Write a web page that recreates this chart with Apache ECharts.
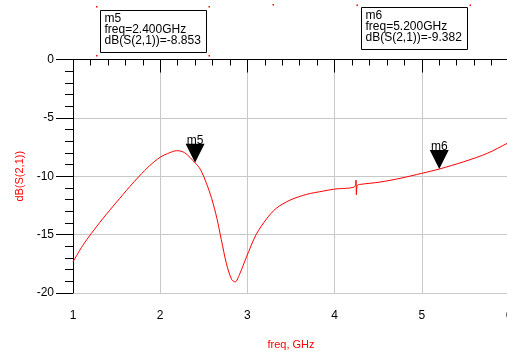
<!DOCTYPE html>
<html>
<head>
<meta charset="utf-8">
<script src="https://cdn.jsdelivr.net/npm/echarts@6/dist/echarts.min.js"></script>
<style>
  html, body { margin: 0; padding: 0; background: #fff; overflow: hidden; }
  #chart { width: 507px; height: 354px; }
</style>
</head>
<body>
<div id="chart"></div>
<script>
// S21 sweep
const freqGHz = [
  1.0, 1.11, 1.21, 1.34, 1.5, 1.65, 1.76, 1.88, 2.0, 2.11, 2.19, 2.28, 2.4,
  2.46, 2.53, 2.59, 2.65, 2.7, 2.76, 2.82, 2.86, 2.91, 2.99, 3.1, 3.22, 3.33,
  3.49, 3.68, 3.87, 4.0, 4.23, 4.245, 4.25, 4.26, 4.29, 4.52, 4.75, 5.0, 5.2,
  5.48, 5.75, 5.98, 6.0,
];
const dbS21 = [
  -17.33, -15.95, -14.9, -13.65, -12.21, -10.9, -9.99, -9.09, -8.37, -7.98,
  -7.81, -7.98, -8.853, -9.4, -10.6, -11.9, -13.6, -15.4, -17.5, -18.85,
  -19.05, -18.4, -16.9, -15.0, -13.65, -12.75, -12.04, -11.55, -11.27, -11.1,
  -10.9, -10.33, -11.6, -10.78, -10.7, -10.5, -10.18, -9.75, -9.382, -8.76,
  -8.04, -7.18, -7.1,
];

const markerNames = ["m5", "m6"];
const markerFreq = [2.4, 5.2];
const markerValue = [-8.853, -9.382];

const xTicks = [1, 2, 3, 4, 5, 6];
const yTicks = [0, -5, -10, -15, -20];

const FONT = "Liberation Sans, Arial, sans-serif";

const initChart = (target) => {
  const myChart = echarts.init(target, null, { renderer: "canvas" });

  const lineData = freqGHz.map((f, i) => [f, dbS21[i]]);
  const markData = markerNames.map((n, i) => ({
    name: n,
    coord: [markerFreq[i], markerValue[i]],
  }));

  const boxAt = (i, left, top) => ({
    type: "group",
    left: left,
    top: top,
    children: [
      {
        type: "rect",
        shape: { x: 0, y: 0, width: 106, height: 42 },
        style: { fill: "#fff", stroke: "#000", lineWidth: 1 },
      },
      {
        type: "text",
        x: 4,
        y: 3,
        style: {
          text:
            markerNames[i] +
            "\nfreq=" + markerFreq[i].toFixed(3) + "GHz" +
            "\ndB(S(2,1))=" + markerValue[i].toFixed(3),
          font: "12px " + FONT,
          lineHeight: 11,
          fill: "#000",
        },
      },
    ],
  });

  const dot = (x, y) => ({
    type: "rect",
    shape: { x: x, y: y, width: 1.5, height: 1.5 },
    style: { fill: "#ff0000" },
  });

  const option = {
    animation: false,
    backgroundColor: "#fff",
    grid: {
      left: 73,
      width: 436,
      top: 59.5,
      height: 233.5,
      containLabel: false,
      outerBoundsMode: "none",
    },
    xAxis: [
      {
        type: "value",
        min: xTicks[0],
        max: xTicks[xTicks.length - 1],
        interval: 1,
        name: "freq, GHz",
        nameLocation: "middle",
        nameGap: 46,
        nameTextStyle: { color: "#ff0000", fontSize: 11, fontFamily: FONT },
        axisLine: { lineStyle: { color: "#000", width: 1 } },
        axisTick: { length: 13, lineStyle: { color: "#000" } },
        minorTick: { show: true, splitNumber: 5, length: 6, lineStyle: { color: "#000" } },
        axisLabel: { margin: 17, color: "#000", fontSize: 12, fontFamily: FONT },
        splitLine: { show: true, lineStyle: { color: "#c8c8c8", width: 1 } },
      },
      {
        type: "value",
        position: "top",
        min: xTicks[0],
        max: xTicks[xTicks.length - 1],
        axisLine: { show: true, lineStyle: { color: "#000", width: 1 } },
        axisTick: { show: false },
        axisLabel: { show: false },
        splitLine: { show: false },
      },
    ],
    yAxis: {
      type: "value",
      min: yTicks[yTicks.length - 1],
      max: yTicks[0],
      interval: 5,
      name: "dB(S(2,1))",
      nameLocation: "middle",
      nameGap: 46,
      nameTextStyle: { color: "#ff0000", fontSize: 11, fontFamily: FONT },
      axisLine: { show: true, lineStyle: { color: "#000", width: 1 } },
      axisTick: { length: 17, lineStyle: { color: "#000" } },
      minorTick: { show: true, splitNumber: 5, length: 8, lineStyle: { color: "#000" } },
      axisLabel: { margin: 19, color: "#000", fontSize: 12, fontFamily: FONT },
      splitLine: { show: true, lineStyle: { color: "#c8c8c8", width: 1 } },
    },
    series: [
      {
        type: "line",
        data: lineData,
        showSymbol: false,
        smooth: 0.3,
        lineStyle: { color: "#ff0000", width: 1 },
        markPoint: {
          symbol: "path://M0,0L20,0L10,20Z",
          symbolSize: [19, 19],
          symbolOffset: [0, -9.5],
          itemStyle: { color: "#000" },
          label: {
            show: true,
            position: "top",
            distance: -3,
            formatter: "{b}",
            color: "#000",
            fontSize: 12,
            fontFamily: FONT,
          },
          data: markData,
        },
      },
    ],
    graphic: [
      boxAt(0, 100, 10),
      boxAt(1, 361, 7),
      dot(96, 6), dot(208.5, 6), dot(96, 55), dot(208.5, 55),
      dot(272.5, 4), dot(356.5, 4.5), dot(469.5, 4.5),
    ],
  };

  option && myChart.setOption(option);
  return myChart;
};

initChart(document.getElementById("chart"));
</script>
</body>
</html>
